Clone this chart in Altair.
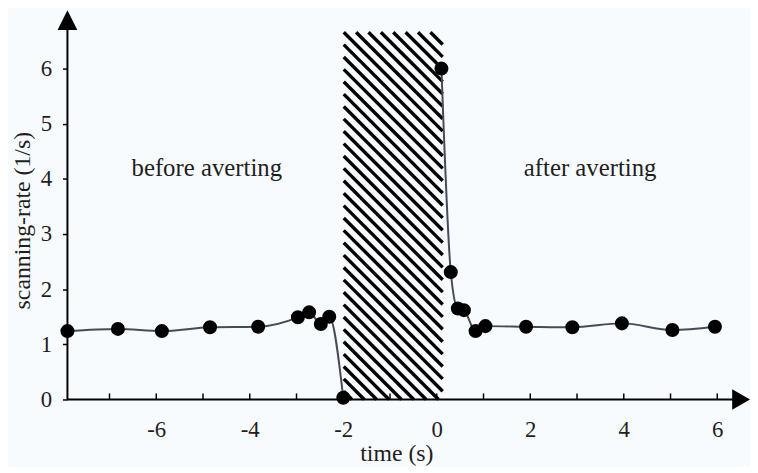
import altair as alt
import pandas as pd
import numpy as np

# ---- data ----
before_t = [-7.90, -6.82, -5.88, -4.85, -3.82, -2.97, -2.73, -2.48, -2.30, -2.00]
before_r = [1.24, 1.28, 1.24, 1.31, 1.32, 1.49, 1.58, 1.37, 1.50, 0.03]
after_t = [0.10, 0.30, 0.45, 0.58, 0.83, 1.04, 1.91, 2.90, 3.96, 5.04, 5.95]
after_r = [6.00, 2.31, 1.65, 1.62, 1.24, 1.33, 1.32, 1.31, 1.38, 1.26, 1.32]

x_tick_values = list(range(-7, 7))
x_label_values = [-6, -4, -2, 0, 2, 4, 6]
y_label_values = [0, 1, 2, 3, 4, 5, 6]

hatch_x = [-1.99, 0.127]
hatch_y = [0.0, 6.66]

notes = ["before averting", "after averting"]
notes_t = [-4.92, 3.28]
notes_r = [4.2, 4.2]

X_DOM = [-7.9, 6.7]
Y_DOM = [0.0, 7.06]
W, H = 689, 393
FONT = "Liberation Serif"
INK = "#1e1e1e"

xs = alt.Scale(domain=X_DOM, nice=False, zero=False)
ys = alt.Scale(domain=Y_DOM, nice=False, zero=False)

X_AXIS = alt.Axis(
    values=x_label_values, domain=False, ticks=False, tickSize=0, grid=False,
    labelExpr="toString(datum.value)",
    labelFont=FONT, labelFontSize=23, labelColor=INK, labelPadding=19,
    title="time (s)", titleFont=FONT, titleFontSize=24, titleFontWeight="normal",
    titleColor=INK, titleX=332, titleY=62, titleBaseline="alphabetic",
)
Y_AXIS = alt.Axis(
    values=y_label_values, domain=False, ticks=True, tickSize=5, tickWidth=1.5,
    tickColor="black", grid=False,
    labelExpr="toString(datum.value)",
    labelFont=FONT, labelFontSize=23, labelColor=INK, labelPadding=11,
    title="scanning-rate (1/s)", titleFont=FONT, titleFontSize=24,
    titleFontWeight="normal", titleColor=INK, titleAngle=-90,
    titleX=-45, titleY=212, titleBaseline="middle",
)


def X(field):
    return alt.X(field, scale=xs, axis=X_AXIS, title="time (s)")


def Y(field):
    return alt.Y(field, scale=ys, axis=Y_AXIS, title="scanning-rate (1/s)")


# ---- series table ----
df = pd.DataFrame({
    "t": before_t + after_t,
    "r": before_r + after_r,
    "seg": ["before"] * len(before_t) + ["after"] * len(after_t),
})

# ---- hatch pattern (diagonal lines clipped to the shaded interval) ----
pxx = W / (X_DOM[1] - X_DOM[0])
pxy = H / (Y_DOM[1] - Y_DOM[0])
hw = (hatch_x[1] - hatch_x[0]) * pxx
hh = (hatch_y[1] - hatch_y[0]) * pxy
period = 12.5
rows = []
for n in range(int(np.ceil(-hw / period)), int(np.ceil(hh / period))):
    k = n * period
    u0 = max(0.0, -k)
    u1 = min(hw, hh - k)
    if u1 <= u0:
        continue
    v0, v1 = u0 + k, u1 + k
    rows.append({
        "t": hatch_x[0] + u0 / pxx, "r": hatch_y[1] - v0 / pxy,
        "t2": hatch_x[0] + u1 / pxx, "r2": hatch_y[1] - v1 / pxy,
    })
hatch_df = pd.DataFrame(rows)

hatch = alt.Chart(hatch_df).mark_rule(color="black", strokeWidth=3.4).encode(
    x=X("t:Q"), y=Y("r:Q"), x2="t2:Q", y2="r2:Q",
)

# ---- axis lines with arrows ----
axis_df = pd.DataFrame({
    "t": [X_DOM[0], X_DOM[0]],
    "r": [0.0, 0.0],
    "t2": [6.55, X_DOM[0]],
    "r2": [0.0, 6.85],
})
axis_lines = alt.Chart(axis_df).mark_rule(color="black", strokeWidth=2).encode(
    x=X("t:Q"), y=Y("r:Q"), x2="t2:Q", y2="r2:Q",
)

arrow_up = alt.Chart(pd.DataFrame({"t": [X_DOM[0]], "r": [Y_DOM[1]]})).mark_point(
    shape="M0,0L-1,2L1,2Z", size=400, filled=True, color="black", opacity=1
).encode(x=X("t:Q"), y=Y("r:Q"))

arrow_right = alt.Chart(pd.DataFrame({"t": [X_DOM[1]], "r": [0.0]})).mark_point(
    shape="M0,0L-2,-1.15L-2,1.15Z", size=324, filled=True, color="black", opacity=1
).encode(x=X("t:Q"), y=Y("r:Q"))

xticks = alt.Chart(pd.DataFrame({"t": x_tick_values, "r": [0.0] * len(x_tick_values),
                                 "r2": [0.11] * len(x_tick_values)})).mark_rule(
    color="black", strokeWidth=1.5
).encode(x=X("t:Q"), y=Y("r:Q"), y2="r2:Q")

# ---- series ----
line = alt.Chart(df).mark_line(color="#464b58", strokeWidth=2, interpolate="monotone").encode(
    x=X("t:Q"), y=Y("r:Q"), detail="seg:N",
)

points = alt.Chart(df).mark_circle(color="black", size=200, opacity=1).encode(
    x=X("t:Q"), y=Y("r:Q"),
)

# ---- annotations ----
text = alt.Chart(pd.DataFrame({"t": notes_t, "r": notes_r, "label": notes})).mark_text(
    font=FONT, fontSize=25, color=INK, baseline="middle", align="center"
).encode(x=X("t:Q"), y=Y("r:Q"), text="label:N")

chart = alt.layer(hatch, axis_lines, xticks, line, points, arrow_up, arrow_right, text).properties(
    width=W,
    height=H,
    background="#f8fbfd",
    padding={"left": 60, "top": 0, "right": 0, "bottom": 66},
    autosize=alt.AutoSizeParams(type="none"),
).configure_view(stroke=None)

chart.save("out.html", embed_options={"renderer": "svg", "actions": False})
